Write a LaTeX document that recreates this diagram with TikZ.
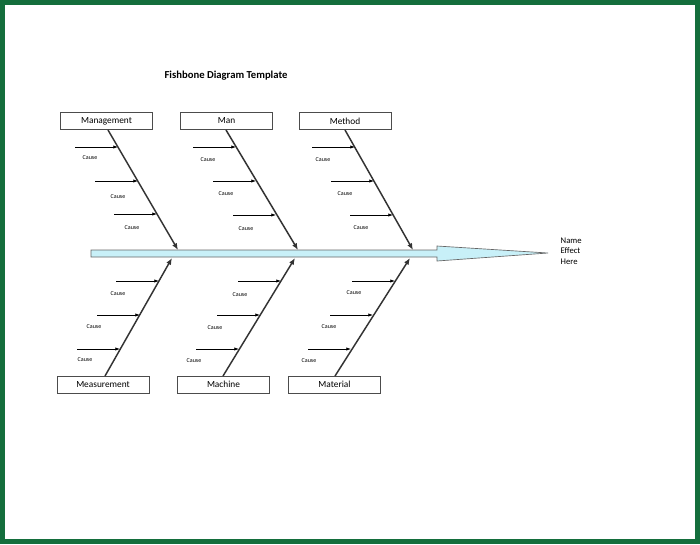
\documentclass[tikz,border=0pt]{standalone}
\usepackage{fontspec}
\setmainfont{Carlito}
\usetikzlibrary{arrows.meta}
\definecolor{framegreen}{RGB}{20,110,60}
\definecolor{spinecyan}{RGB}{200,240,248}

\begin{document}
\begin{tikzpicture}[
x=0.75pt, y=-0.75pt,
catbox/.style={draw=black!70, minimum width=69pt, minimum height=13pt, inner sep=0pt, font=\fontsize{7}{8}\selectfont},
bone/.style={-{Latex[length=5pt,width=4pt]}, line width=1.1pt, black!80},
cause/.style={-{Latex[length=3.5pt,width=2.5pt]}, line width=0.6pt},
causetext/.style={font=\fontsize{4.5}{5}\selectfont}
]
% frame
\fill[framegreen] (0,0) rectangle (700,544);
\fill[white] (5,5) rectangle (695,539);
\node[font=\bfseries\fontsize{8}{9}\selectfont] (title) at (226,76) {Fishbone Diagram Template};

% spine
\draw[black!60, fill=spinecyan, line width=0.5pt] (91,250) -- (437,250) -- (437,246) -- (548,253)
  -- (437,261) -- (437,257) -- (91,257) -- cycle;
\node[align=left, font=\fontsize{6.5}{8}\selectfont, anchor=west] (effect) at (556,251) {Name\\Effect\\Here};

% categories
\node[catbox] (mgmt) at (106.5,121) {Management};
\node[catbox] (man) at (226.5,121) {Man};
\node[catbox] (meth) at (345,121) {Method};
\node[catbox] (meas) at (103,384.5) {Measurement};
\node[catbox] (mach) at (223.5,384.5) {Machine};
\node[catbox] (mat) at (334.5,384.5) {Material};

\coordinate (mgmtend) at (178,250);
\coordinate (manend) at (298,250);
\coordinate (methend) at (413,250);
\coordinate (measend) at (172,258);
\coordinate (machend) at (295,258);
\coordinate (matend) at (410,258);

\draw[bone] (108,130) -- (mgmtend);
\draw[bone] (226,130) -- (manend);
\draw[bone] (345,130) -- (methend);
\draw[bone] (105,376) -- (measend);
\draw[bone] (223,376) -- (machend);
\draw[bone] (335,376) -- (matend);

% causes, top
\foreach \ex/\ey/\lx/\ly [count=\i] in {118/147/90/158, 138/181/118/197, 157/214/132/228,
  236/147/208/160, 256/181/226/194, 276/215/246/229,
  355/147/323/160, 374/181/345/194, 393/215/361/228}{
  \coordinate (ta\i) at (\ex,\ey);
  \coordinate (ts\i) at (\ex-43,\ey);
  \draw[cause] (ts\i) -- (ta\i);
  \node[causetext] (tc\i) at (\lx,\ly) {Cause};
}
% causes, bottom
\foreach \ex/\ey/\lx/\ly [count=\i] in {159/281/118/294, 140/315/94/327, 120/349/85/360,
  281/281/240/295, 260/315/215/328, 239/349/194/361,
  395/281/354/293, 373/315/329/327, 351/349/309/361}{
  \coordinate (ba\i) at (\ex,\ey);
  \coordinate (bs\i) at (\ex-43,\ey);
  \draw[cause] (bs\i) -- (ba\i);
  \node[causetext] (bc\i) at (\lx,\ly) {Cause};
}
\end{tikzpicture}
\end{document}
